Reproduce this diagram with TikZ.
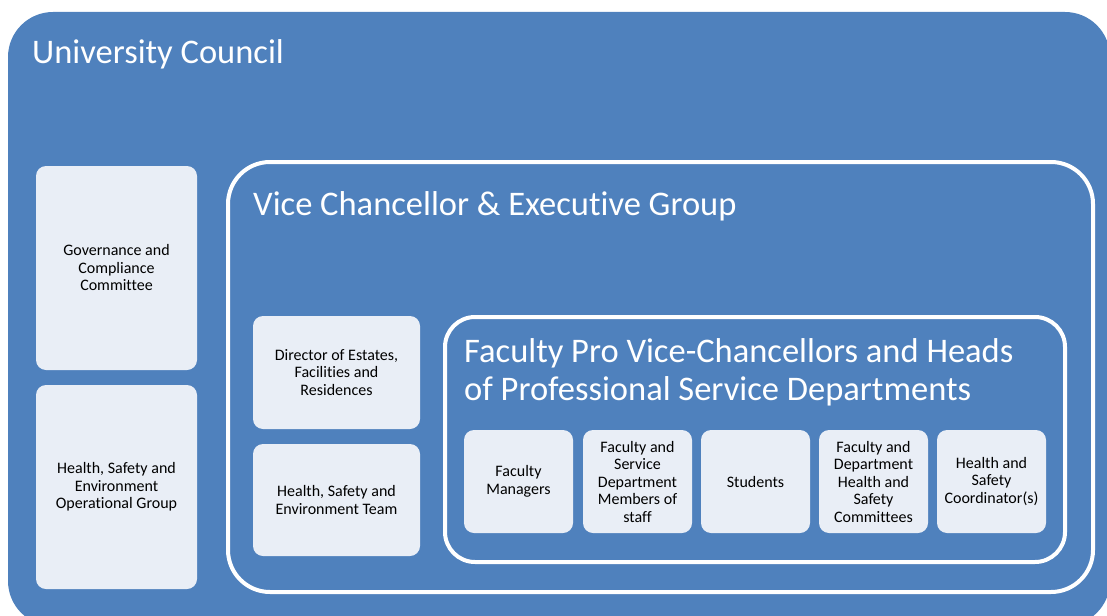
\documentclass[tikz,border=0pt]{standalone}
\usepackage{fontspec}
\setmainfont{Carlito}[Ligatures=NoCommon]
\definecolor{ublue}{RGB}{79,129,189}
\definecolor{ulight}{RGB}{233,238,246}
\tikzset{
  outerbox/.style={fill=ublue, draw=none, rounded corners=45pt},
  framebox/.style={draw=white, line width=4pt, fill=ublue},
  lightbox/.style={fill=ulight, draw=none, rounded corners=10pt},
  bigtitle/.style={text=white, font=\fontsize{34.5}{37.5}\selectfont, anchor=base west, inner sep=0pt, align=left},
  smalltext/.style={text=black, font=\fontsize{16}{17.5}\selectfont, align=center, inner sep=0pt}
}
\begin{document}
\begin{tikzpicture}[x=1pt,y=-1pt]
\useasboundingbox (0,0) rectangle (1107,615);
\clip (0,0) rectangle (1107,615);
% University Council
\draw[outerbox] (8,12) rectangle (1110,626);
\node[bigtitle] (uc) at (32,64) {University Council};
% left boxes
\draw[lightbox] (36,166) rectangle (197,370);
\node[smalltext] (gov) at (116.5,268) {Governance and\\Compliance\\Committee};
\draw[lightbox] (36,385) rectangle (197,589);
\node[smalltext] (hseog) at (116.5,487) {Health, Safety and\\Environment\\Operational Group};
% Vice Chancellor
\draw[framebox, rounded corners=42pt] (228,162) rectangle (1093,592);
\node[bigtitle] (vc) at (253,215) {Vice Chancellor \& Executive Group};
\draw[lightbox] (253,316) rectangle (420,429);
\node[smalltext] (dir) at (336.5,372.5) {Director of Estates,\\Facilities and\\Residences};
\draw[lightbox] (253,444) rectangle (420,556);
\node[smalltext] (hset) at (336.5,500) {Health, Safety and\\Environment Team};
% Faculty
\draw[framebox, rounded corners=30pt] (445,317) rectangle (1065,562);
\node[bigtitle] (fac) at (464,400) {Faculty Pro Vice-Chancellors and Heads\\of Professional Service Departments};
\draw[lightbox] (464,430) rectangle (573,533);
\node[smalltext] (fm) at (518.5,481.5) {Faculty\\Managers};
\draw[lightbox] (583,430) rectangle (692,533);
\node[smalltext] (fsd) at (637.5,481.5) {Faculty and\\Service\\Department\\Members of\\staff};
\draw[lightbox] (701,430) rectangle (810,533);
\node[smalltext] (st) at (755.5,481.5) {Students};
\draw[lightbox] (819,430) rectangle (928,533);
\node[smalltext] (fdh) at (873.5,481.5) {Faculty and\\Department\\Health and\\Safety\\Committees};
\draw[lightbox] (937,430) rectangle (1046,533);
\node[smalltext] (hsc) at (991.5,481.5) {Health and\\Safety\\Coordinator(s)};
\end{tikzpicture}
\end{document}
